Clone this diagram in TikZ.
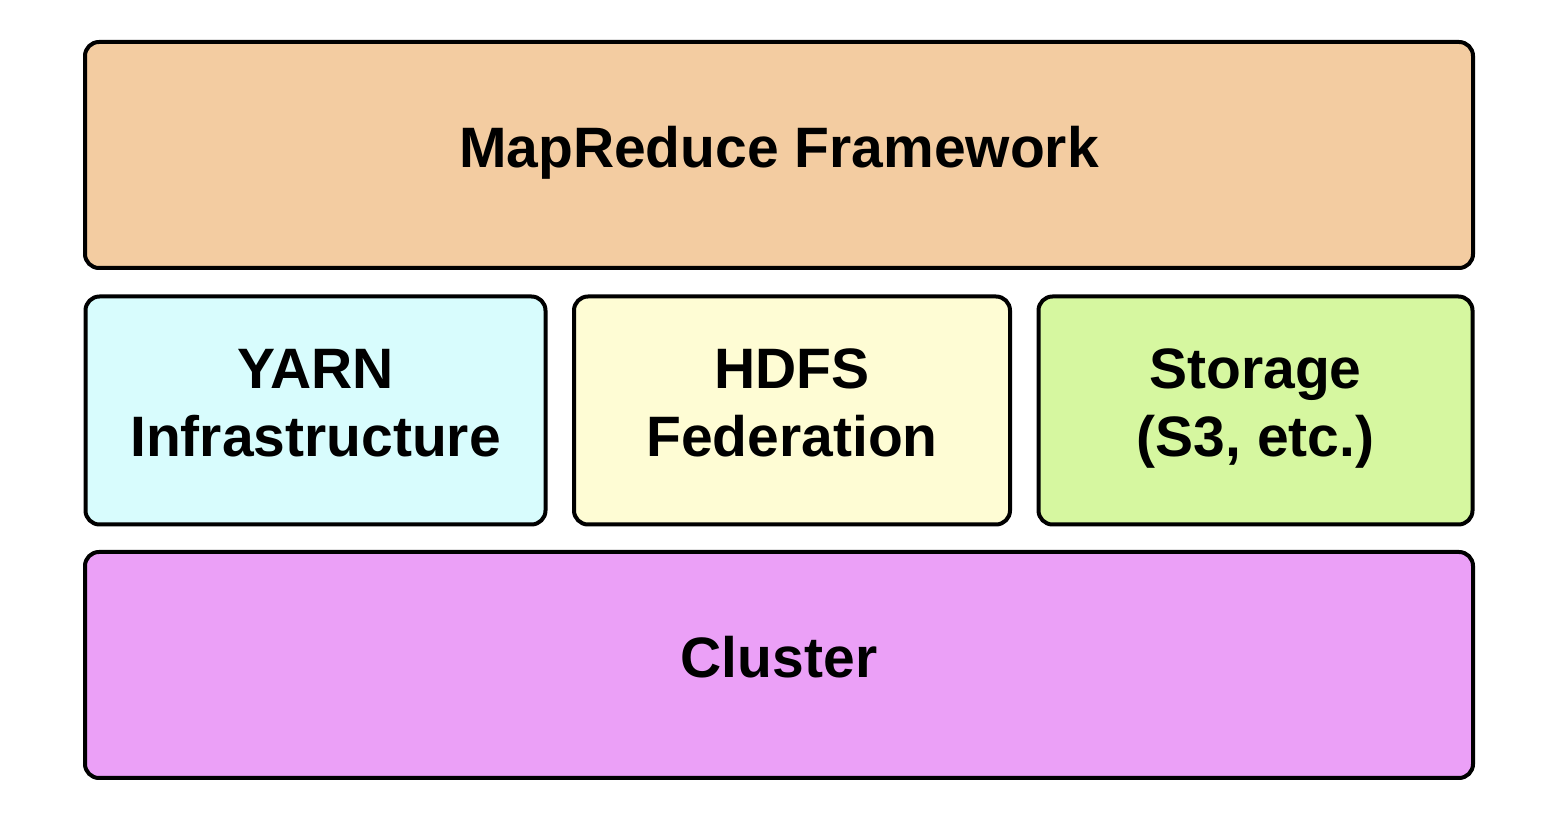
\documentclass[tikz,border=0pt]{standalone}
\usepackage{fontspec}
\setmainfont{Liberation Sans}
\usepackage{xcolor}
\usetikzlibrary{positioning}
\definecolor{mapred}{RGB}{243, 204, 161}
\definecolor{yarn}{RGB}{216, 252, 253}
\definecolor{hdfs}{RGB}{254, 252, 212}
\definecolor{store}{RGB}{214, 247, 160}
\definecolor{cluster}{RGB}{235, 160, 247}

\begin{document}
\begin{tikzpicture}[x=0.5pt, y=-0.5pt,
    box/.style={rectangle, rounded corners=7pt, draw, line width=2pt,
                minimum height=113pt, align=center, text depth=8pt,
                font=\fontsize{28.5}{34}\selectfont\bfseries}]
    \useasboundingbox (0,0) rectangle (1558,822);

    % Top layer
    \node[box, fill=mapred, minimum width=694pt] (mapreduce) at (779, 155) {MapReduce Framework};

    % Middle layer
    \node[box, fill=yarn, minimum width=230pt, minimum height=114pt] (yarn) at (315.5, 410.5) {YARN\\Infrastructure};
    \node[box, fill=hdfs, minimum width=218pt, minimum height=114pt] (hdfs) at (792, 410.5) {HDFS\\Federation};
    \node[box, fill=store, minimum width=217pt, minimum height=114pt] (storage) at (1255.5, 410.5) {Storage\\(S3, etc.)};

    % Bottom layer
    \node[box, fill=cluster, minimum width=694pt] (cluster) at (779, 665) {Cluster};
\end{tikzpicture}
\end{document}
